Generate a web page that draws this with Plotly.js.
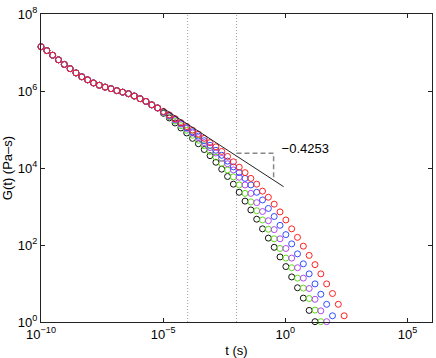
<!DOCTYPE html>
<html>
<head>
<meta charset="utf-8">
<script src="https://cdn.plot.ly/plotly-3.0.1.min.js"></script>
<style>
  html, body { margin: 0; padding: 0; background: #fff; }
  #chart { width: 436px; height: 358px; }
</style>
</head>
<body>
<div id="chart"></div>
<script>
// time grid (s), shared by all runs
const tSec = [1.000e-10, 1.732e-10, 3.000e-10, 5.196e-10, 9.000e-10, 1.559e-9, 2.700e-9, 4.677e-9,
  8.100e-9, 1.403e-8, 2.430e-8, 4.209e-8, 7.290e-8, 1.263e-7, 2.187e-7, 3.788e-7, 6.561e-7,
  1.136e-6, 1.968e-6, 3.409e-6, 5.905e-6, 1.023e-5, 1.771e-5, 3.068e-5, 5.314e-5, 9.204e-5,
  1.594e-4, 2.761e-4, 4.783e-4, 8.284e-4, 1.435e-3, 2.485e-3, 4.305e-3, 7.456e-3, 1.291e-2,
  2.237e-2, 3.874e-2, 6.711e-2, 0.1162, 0.2013, 0.3487, 0.6040, 1.046, 1.812, 3.138, 5.436,
  9.414, 16.31, 28.24, 48.92, 84.73, 146.8, 254.2];

// G(t) common to every run up to ~6e-6 s
const gEarly = [1.41e7, 1.12e7, 8.51e6, 6.46e6, 4.90e6, 3.80e6, 2.95e6, 2.34e6, 1.95e6, 1.62e6,
  1.41e6, 1.26e6, 1.15e6, 1.02e6, 9.33e5, 8.51e5, 7.41e5, 6.31e5, 5.37e5, 4.37e5, 3.63e5];

// tails, each one starting at t = 1.023e-5
const gRedTail = [2.95e5, 2.40e5, 1.91e5, 1.51e5, 1.20e5, 9.55e4, 7.59e4, 5.89e4, 4.57e4, 3.55e4,
  2.69e4, 2.00e4, 1.45e4, 1.05e4, 7.59e3, 5.37e3, 3.80e3, 2.51e3, 1.74e3, 1.15e3, 724, 447, 263,
  158, 93.3, 53.7, 30.9, 17.8, 9.77, 5.50, 2.88, 1.45];
const gBlueTail = [2.88e5, 2.34e5, 1.86e5, 1.45e5, 1.12e5, 8.71e4, 6.76e4, 5.13e4, 3.89e4, 2.88e4,
  2.14e4, 1.51e4, 1.07e4, 7.59e3, 5.37e3, 3.63e3, 2.34e3, 1.48e3, 891, 550, 324, 186, 107, 58.9,
  32.4, 17.8, 9.77, 5.25, 2.88, 1.45];
const gPurpleTail = [2.82e5, 2.24e5, 1.78e5, 1.38e5, 1.07e5, 8.13e4, 6.17e4, 4.57e4, 3.39e4, 2.45e4,
  1.78e4, 1.29e4, 8.91e3, 5.75e3, 3.63e3, 2.19e3, 1.26e3, 741, 427, 251, 145, 81.3, 45.7, 25.7,
  13.8, 7.41, 3.89, 1.95, 1.02];
const gGreenTail = [2.75e5, 2.14e5, 1.66e5, 1.26e5, 9.55e4, 7.08e4, 5.25e4, 3.80e4, 2.69e4, 1.91e4,
  1.32e4, 8.91e3, 5.89e3, 3.63e3, 2.19e3, 1.32e3, 776, 447, 257, 145, 81.3, 45.7, 25.7, 13.8,
  7.59, 4.07, 2.04, 1.02];
const gBlackTail = [2.63e5, 2.00e5, 1.48e5, 1.10e5, 8.13e4, 5.89e4, 4.27e4, 3.02e4, 2.09e4, 1.41e4,
  9.33e3, 6.03e3, 3.80e3, 2.34e3, 1.38e3, 813, 468, 263, 151, 87.1, 49.0, 27.5, 14.8, 7.76, 4.17,
  2.00, 1.02];

// power-law fit line and slope triangle
const fitT = [1.0e-5, 0.85];
const fitG = [3.55e5, 3.27e3];
const boxT = [0.01, 0.33, 0.33];
const boxG = [2.4e4, 2.4e4, 5.1e3];
const slopeLabel = '\u22120.4253';
const labelT = [0.70];
const labelG = [2.95e4];

// vertical reference lines
const markT = [1e-4, 1e-2];
const markG = [1, 1e8];

const xTickVals = [1e-10, 1e-5, 1, 1e5];
const xTickText = ['10<sup>\u221210</sup>', '10<sup>\u22125</sup>', '10<sup>0</sup>', '10<sup>5</sup>'];
const yTickVals = [1, 1e2, 1e4, 1e6, 1e8];
const yTickText = ['10<sup>0</sup>', '10<sup>2</sup>', '10<sup>4</sup>', '10<sup>6</sup>', '10<sup>8</sup>'];

const runs = [
  { tail: gBlackTail, color: '#111111' },
  { tail: gGreenTail, color: '#5ddc1a' },
  { tail: gPurpleTail, color: '#b347f0' },
  { tail: gBlueTail, color: '#2f4dff' },
  { tail: gRedTail, color: '#ff1f1f' }
];

const traces = [];

markT.forEach(t => {
  traces.push({
    x: [t, t], y: markG, type: 'scatter', mode: 'lines',
    line: { color: '#a0a0a0', width: 1, dash: '1px,2px' },
    hoverinfo: 'skip', showlegend: false
  });
});

runs.forEach(r => {
  const g = gEarly.concat(r.tail);
  traces.push({
    x: tSec.slice(0, g.length), y: g, type: 'scatter', mode: 'markers',
    marker: { symbol: 'circle-open', size: 6, color: r.color, line: { width: 1, color: r.color } },
    cliponaxis: false, showlegend: false
  });
});

traces.push({
  x: fitT, y: fitG, type: 'scatter', mode: 'lines',
  line: { color: '#222', width: 1 }, showlegend: false
});
traces.push({
  x: boxT, y: boxG, type: 'scatter', mode: 'lines',
  line: { color: '#888', width: 1.5, dash: '5px,3px' }, showlegend: false
});
traces.push({
  x: labelT, y: labelG, type: 'scatter', mode: 'text',
  text: [slopeLabel], textposition: 'middle right',
  textfont: { family: 'Liberation Sans, Arial, sans-serif', size: 13, color: '#000' },
  cliponaxis: false, showlegend: false
});

const axisCommon = {
  type: 'log', showgrid: false, zeroline: false,
  showline: true, linecolor: '#222', linewidth: 1, mirror: 'ticks',
  ticks: 'inside', ticklen: 4, tickcolor: '#222', tickmode: 'array',
  tickfont: { family: 'Liberation Sans, Arial, sans-serif', size: 13, color: '#000' }
};

const layout = {
  width: 436, height: 358,
  margin: { l: 41, r: 4, t: 14, b: 36 },
  paper_bgcolor: '#fff', plot_bgcolor: '#fff',
  font: { family: 'Liberation Sans, Arial, sans-serif', color: '#000' },
  showlegend: false,
  xaxis: Object.assign({}, axisCommon, {
    range: [-10, 6], tickvals: xTickVals, ticktext: xTickText,
    title: { text: 't (s)', font: { size: 13 }, standoff: 6 }
  }),
  yaxis: Object.assign({}, axisCommon, {
    range: [0, 8], tickvals: yTickVals, ticktext: yTickText,
    title: { text: 'G(t) (Pa\u2013s)', font: { size: 13 }, standoff: 3 }
  })
};

Plotly.newPlot('chart', traces, layout, { displayModeBar: false, staticPlot: true });
</script>
</body>
</html>
